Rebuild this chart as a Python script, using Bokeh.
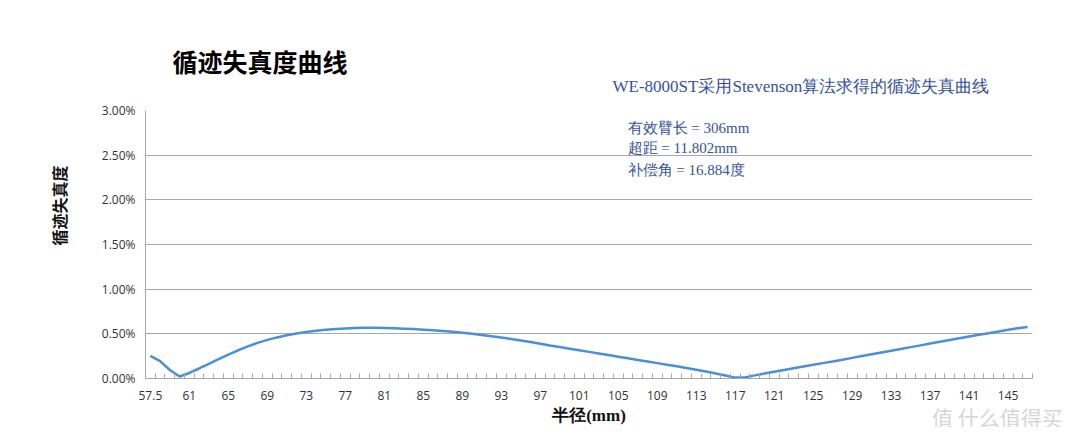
import numpy as np
from bokeh.plotting import figure
from bokeh.models import Range1d, FixedTicker, PrintfTickFormatter, Label, Title
from bokeh.embed import file_html
from bokeh.resources import INLINE

# ---- data ----
categories = ["57.5"] + [str(v) for v in range(58, 148)]
distortion_pct = [
    0.254, 0.195, 0.095, 0.022, 0.062, 0.112, 0.165, 0.218, 0.268, 0.316,
    0.360, 0.399, 0.432, 0.460, 0.484, 0.504, 0.521, 0.535, 0.546, 0.555,
    0.561, 0.565, 0.567, 0.567, 0.565, 0.562, 0.558, 0.553, 0.547, 0.540,
    0.532, 0.522, 0.512, 0.500, 0.488, 0.474, 0.459, 0.443, 0.426, 0.408,
    0.389, 0.370, 0.352, 0.334, 0.316, 0.298, 0.280, 0.262, 0.244, 0.226,
    0.208, 0.190, 0.172, 0.154, 0.136, 0.117, 0.098, 0.078, 0.057, 0.034,
    0.010, 0.012, 0.035, 0.055, 0.075, 0.095, 0.115, 0.134, 0.153, 0.172,
    0.191, 0.211, 0.231, 0.251, 0.271, 0.291, 0.311, 0.331, 0.351, 0.371,
    0.391, 0.411, 0.431, 0.451, 0.470, 0.489, 0.507, 0.525, 0.545, 0.562,
    0.576,
]
y_ticks = [0.0, 0.5, 1.0, 1.5, 2.0, 2.5, 3.0]
label_every = 4

title_text = "循迹失真度曲线"
subtitle_text = "WE-8000ST采用Stevenson算法求得的循迹失真曲线"
notes = ["有效臂长 = 306mm", "超距 = 11.802mm", "补偿角 = 16.884度"]
x_title = "半径(mm)"
y_title = "循迹失真度"
watermark = "值  什么值得买"

# ---- positions on the category axis ----
n = len(categories)
xpos = np.arange(n) + 0.5
major = [float(xpos[i]) for i in range(0, n, label_every)]
overrides = {float(xpos[i]): categories[i] for i in range(0, n, label_every)}

p = figure(width=1064, height=427, output_backend="svg", toolbar_location=None,
           x_range=Range1d(0, n), y_range=Range1d(0, 3.0),
           min_border_left=145, min_border_right=32, min_border_top=110,
           min_border_bottom=49)
p.outline_line_color = None
p.background_fill_color = "white"
p.border_fill_color = "white"

grey = "#A8A8A8"
tick_font = "Open Sans"
tick_col = "#333333"
blue = "#34529E"

# x axis
xa = p.xaxis[0]
xa.ticker = FixedTicker(ticks=major, minor_ticks=list(range(0, n + 1)))
xa.major_label_overrides = overrides
xa.major_tick_line_color = None
xa.major_tick_in = 0
xa.major_tick_out = 0
xa.minor_tick_in = 5
xa.minor_tick_out = 0
xa.minor_tick_line_color = grey
xa.axis_line_color = grey
xa.major_label_text_font = tick_font
xa.major_label_text_font_size = "12px"
xa.major_label_text_color = tick_col
xa.major_label_standoff = 12
xa.axis_label = x_title
xa.axis_label_text_font = "Liberation Serif"
xa.axis_label_text_font_style = "bold"
xa.axis_label_text_font_size = "17px"
xa.axis_label_text_color = "#111111"
xa.axis_label_standoff = 3

# y axis
ya = p.yaxis[0]
ya.ticker = FixedTicker(ticks=y_ticks)
ya.formatter = PrintfTickFormatter(format="%.2f%%")
ya.major_tick_line_color = None
ya.minor_tick_line_color = None
ya.major_tick_out = 0
ya.axis_line_color = grey
ya.major_label_text_font = tick_font
ya.major_label_text_font_size = "12px"
ya.major_label_text_color = tick_col
ya.major_label_standoff = 10

p.xgrid.grid_line_color = None
p.ygrid.grid_line_color = grey
p.ygrid.grid_line_width = 1

p.line(xpos, distortion_pct, line_color="#4A8FDA", line_width=2.5)

# texts in the panel above the plot area (first added sits nearest the frame);
# screen units are measured from each panel's bottom-left corner
p.add_layout(Label(x=922, y=-306, x_units="screen", y_units="screen", text=watermark,
                   text_font="Noto Sans CJK SC", text_font_size="21px",
                   text_color="#D6D6D6", text_baseline="middle", text_align="right"),
             "above")
p.add_layout(Label(x=467, y=-6, x_units="screen", y_units="screen", text=subtitle_text,
                   text_font="Liberation Serif", text_font_size="17px",
                   text_color=blue, text_baseline="middle", text_align="left"),
             "above")
p.add_layout(Label(x=27, y=0.5, x_units="screen", y_units="screen", text=title_text,
                   text_font="Noto Sans CJK SC", text_font_size="25px",
                   text_font_style="bold", text_color="#000000",
                   text_baseline="middle", text_align="left"),
             "above")
# y axis title
p.add_layout(Title(text=y_title, align="left", offset=133, standoff=55,
                   text_font="Noto Sans CJK SC", text_font_size="16px",
                   text_font_style="bold", text_color="#111111"), "left")

# notes inside the plot area
for i, t in enumerate(notes):
    p.add_layout(Label(x=482, y=[251, 231, 209][i], x_units="screen", y_units="screen",
                       text=t, text_font="Liberation Serif", text_font_size="15px",
                       text_color=blue, text_baseline="middle", text_align="left"))

open("out.html", "w").write(file_html(p, INLINE))
